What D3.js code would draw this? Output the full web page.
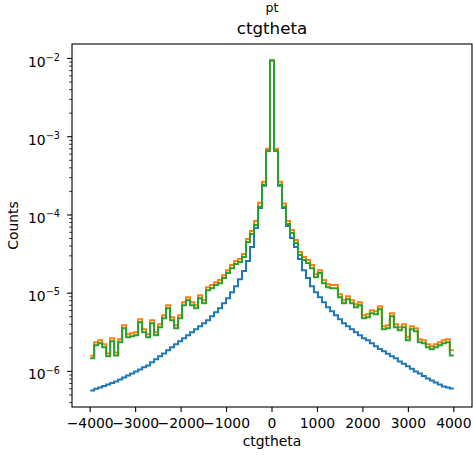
<!DOCTYPE html>
<html>
<head>
<meta charset="utf-8">
<script src="https://cdn.jsdelivr.net/npm/d3@7"></script>
<style>
  html, body { margin: 0; padding: 0; background: #fff; }
  svg { display: block; font-family: "DejaVu Sans", sans-serif; }
</style>
</head>
<body>
<div id="chart"></div>
<script>
// ---- data ----
const histRange = [-4000, 4000];
const binCount = 91;

// series 1 (blue)
const blueCounts = [
  5.7e-7, 6.0e-7, 6.24e-7, 6.5e-7, 6.81e-7, 7.1e-7, 7.44e-7, 7.9e-7, 8.38e-7, 8.89e-7,
  9.43e-7, 1.0e-6, 1.06e-6, 1.13e-6, 1.19e-6, 1.31e-6, 1.43e-6, 1.56e-6, 1.7e-6, 1.86e-6,
  2.03e-6, 2.22e-6, 2.43e-6, 2.65e-6, 2.9e-6, 3.16e-6, 3.46e-6, 3.78e-6, 4.13e-6, 4.51e-6,
  5.07e-6, 5.71e-6, 6.42e-6, 7.44e-6, 8.63e-6, 1.03e-5, 1.23e-5, 1.51e-5, 1.92e-5, 2.57e-5,
  3.89e-5, 6.81e-5, 1.23e-4, 2.36e-4, 6.62e-4, 9.43e-3, 6.62e-4, 2.36e-4, 1.23e-4, 7.23e-5,
  5.07e-5, 3.89e-5, 2.73e-5, 1.97e-5, 1.56e-5, 1.23e-5, 1.03e-5, 8.89e-6, 7.67e-6, 6.62e-6,
  5.88e-6, 5.22e-6, 4.64e-6, 4.13e-6, 3.78e-6, 3.46e-6, 3.16e-6, 2.9e-6, 2.65e-6, 2.5e-6,
  2.29e-6, 2.09e-6, 1.94e-6, 1.81e-6, 1.68e-6, 1.56e-6, 1.47e-6, 1.34e-6, 1.25e-6, 1.16e-6,
  1.08e-6, 1.0e-6, 9.43e-7, 8.76e-7, 8.13e-7, 7.67e-7, 7.23e-7, 6.81e-7, 6.42e-7, 6.24e-7,
  6.06e-7
];

// series 2 (orange)
const orangeCounts = [
  1.58e-6, 2.36e-6, 2.5e-6, 2.22e-6, 1.7e-6, 2.65e-6, 1.75e-6, 2.58e-6, 3.9e-6, 2.98e-6,
  3.07e-6, 3.16e-6, 4.64e-6, 3.46e-6, 2.98e-6, 4.51e-6, 3.16e-6, 4.0e-6, 5.22e-6, 7.02e-6,
  4.93e-6, 3.89e-6, 5.22e-6, 7.67e-6, 8.89e-6, 7.67e-6, 7.02e-6, 9.43e-6, 8.13e-6, 1.19e-5,
  1.27e-5, 1.38e-5, 1.47e-5, 1.7e-5, 1.97e-5, 2.29e-5, 2.58e-5, 2.73e-5, 3.16e-5, 4.93e-5,
  6.24e-5, 8.38e-5, 1.43e-4, 2.65e-4, 7.02e-4, 9.43e-3, 7.02e-4, 2.65e-4, 1.4e-4, 8.38e-5,
  6.42e-5, 4.78e-5, 3.36e-5, 2.9e-5, 2.65e-5, 2.29e-5, 1.75e-5, 1.97e-5, 1.47e-5, 1.3e-5,
  1.27e-5, 1.27e-5, 9.71e-6, 8.13e-6, 9.15e-6, 8.13e-6, 7.23e-6, 7.67e-6, 5.22e-6, 5.38e-6,
  6.05e-6, 5.88e-6, 6.81e-6, 3.78e-6, 3.89e-6, 5.54e-6, 4.0e-6, 3.67e-6, 4.0e-6, 2.73e-6,
  3.78e-6, 3.56e-6, 2.58e-6, 2.5e-6, 2.22e-6, 2.09e-6, 2.22e-6, 2.36e-6, 2.5e-6, 2.58e-6,
  1.86e-6
];

// series 3 (green)
const greenCounts = [
  1.47e-6, 2.16e-6, 2.29e-6, 2.03e-6, 1.56e-6, 2.43e-6, 1.6e-6, 2.36e-6, 3.56e-6, 2.73e-6,
  2.81e-6, 2.9e-6, 4.25e-6, 3.16e-6, 2.73e-6, 4.13e-6, 2.9e-6, 3.67e-6, 4.78e-6, 6.42e-6,
  4.51e-6, 3.56e-6, 4.78e-6, 7.02e-6, 8.13e-6, 7.02e-6, 6.42e-6, 8.63e-6, 7.44e-6, 1.09e-5,
  1.16e-5, 1.27e-5, 1.34e-5, 1.56e-5, 1.81e-5, 2.09e-5, 2.36e-5, 2.5e-5, 2.9e-5, 4.51e-5,
  5.71e-5, 7.44e-5, 1.27e-4, 2.43e-4, 6.62e-4, 9.43e-3, 6.62e-4, 2.43e-4, 1.27e-4, 7.67e-5,
  5.88e-5, 4.38e-5, 3.07e-5, 2.65e-5, 2.43e-5, 2.09e-5, 1.6e-5, 1.81e-5, 1.34e-5, 1.19e-5,
  1.16e-5, 1.16e-5, 8.89e-6, 7.44e-6, 8.38e-6, 7.44e-6, 6.62e-6, 7.02e-6, 4.78e-6, 4.93e-6,
  5.54e-6, 5.38e-6, 6.24e-6, 3.46e-6, 3.56e-6, 5.07e-6, 3.67e-6, 3.36e-6, 3.67e-6, 2.5e-6,
  3.46e-6, 3.26e-6, 2.36e-6, 2.29e-6, 2.03e-6, 1.92e-6, 2.03e-6, 2.16e-6, 2.29e-6, 2.36e-6,
  1.6e-6
];

const seriesColors = ['#1f77b4', '#ff7f0e', '#2ca02c'];
const xTickValues = [-4000, -3000, -2000, -1000, 0, 1000, 2000, 3000, 4000];
const yTickExponents = [-6, -5, -4, -3, -2];

const suptitleText = 'pt';
const titleText = 'ctgtheta';
const xLabelText = 'ctgtheta';
const yLabelText = 'Counts';

// ---- layout ----
const W = 473, H = 455;
const plot = { left: 72, right: 472, top: 44, bottom: 407 };

const svg = d3.select('#chart').append('svg')
  .attr('width', W)
  .attr('height', H);

// bin edges (equal width bins over histRange)
const binWidth = (histRange[1] - histRange[0]) / binCount;
const edges = d3.range(binCount + 1).map(i => histRange[0] + i * binWidth);

// x: data range plus 5% margins, as matplotlib does
const xSpan = histRange[1] - histRange[0];
const x = d3.scaleLinear()
  .domain([histRange[0] - 0.05 * xSpan, histRange[1] + 0.05 * xSpan])
  .range([plot.left, plot.right]);

// y: log scale, 5% margins in log space
const allCounts = blueCounts.concat(orangeCounts, greenCounts);
const lo = Math.log10(d3.min(allCounts));
const hi = Math.log10(d3.max(allCounts));
const pad = 0.05 * (hi - lo);
const y = d3.scaleLog()
  .domain([Math.pow(10, lo - pad), Math.pow(10, hi + pad)])
  .range([plot.bottom, plot.top]);

svg.append('clipPath').attr('id', 'plotClip')
  .append('rect')
  .attr('x', plot.left).attr('y', plot.top)
  .attr('width', plot.right - plot.left)
  .attr('height', plot.bottom - plot.top);

// step outline of a histogram
function stepPoints(counts) {
  const pts = [];
  counts.forEach((c, i) => {
    pts.push([edges[i], c]);
    pts.push([edges[i + 1], c]);
  });
  return pts;
}

const line = d3.line()
  .x(d => x(d[0]))
  .y(d => y(d[1]));

const g = svg.append('g').attr('clip-path', 'url(#plotClip)');
[blueCounts, orangeCounts, greenCounts].forEach((counts, i) => {
  g.append('path')
    .attr('d', line(stepPoints(counts)))
    .attr('fill', 'none')
    .attr('stroke', seriesColors[i])
    .attr('stroke-width', 2)
    .attr('stroke-linejoin', 'miter');
});

// ---- axes ----
const axisColor = '#000';

// x ticks
const xAxis = svg.append('g');
xTickValues.forEach(v => {
  xAxis.append('line')
    .attr('x1', x(v)).attr('x2', x(v))
    .attr('y1', plot.bottom).attr('y2', plot.bottom + 4.9)
    .attr('stroke', axisColor).attr('stroke-width', 1.1);
  xAxis.append('text')
    .attr('x', x(v))
    .attr('y', plot.bottom + 21)
    .attr('text-anchor', 'middle')
    .attr('font-size', '13.9px')
    .attr('fill', '#000')
    .text(v < 0 ? '\u2212' + Math.abs(v) : String(v));
});

// y minor ticks
const yAxis = svg.append('g');
const [dMin, dMax] = y.domain();
for (let e = Math.floor(Math.log10(dMin)); e <= Math.ceil(Math.log10(dMax)); e++) {
  for (let m = 2; m <= 9; m++) {
    const v = m * Math.pow(10, e);
    if (v < dMin || v > dMax) continue;
    yAxis.append('line')
      .attr('x1', plot.left - 2.8).attr('x2', plot.left)
      .attr('y1', y(v)).attr('y2', y(v))
      .attr('stroke', axisColor).attr('stroke-width', 0.8);
  }
}

// y major ticks with 10^n labels
yTickExponents.forEach(e => {
  const yy = y(Math.pow(10, e));
  yAxis.append('line')
    .attr('x1', plot.left - 4.9).attr('x2', plot.left)
    .attr('y1', yy).attr('y2', yy)
    .attr('stroke', axisColor).attr('stroke-width', 1.1);
  const t = yAxis.append('text')
    .attr('x', 60)
    .attr('y', yy + 8)
    .attr('text-anchor', 'end')
    .attr('font-size', '13.9px')
    .attr('fill', '#000');
  t.append('tspan').text('10');
  t.append('tspan')
    .attr('font-size', '9.7px')
    .attr('dy', -5.8)
    .text('\u2212' + Math.abs(e));
});

// frame
svg.append('rect')
  .attr('x', plot.left).attr('y', plot.top)
  .attr('width', plot.right - plot.left)
  .attr('height', plot.bottom - plot.top)
  .attr('fill', 'none')
  .attr('stroke', axisColor)
  .attr('stroke-width', 1.1);

// ---- titles & labels ----
const midX = (plot.left + plot.right) / 2;

svg.append('text')
  .attr('x', midX).attr('y', 12)
  .attr('text-anchor', 'middle')
  .attr('font-size', '12.5px')
  .text(suptitleText);

svg.append('text')
  .attr('x', midX).attr('y', 33.5)
  .attr('text-anchor', 'middle')
  .attr('font-size', '16.7px')
  .text(titleText);

svg.append('text')
  .attr('x', midX).attr('y', 446)
  .attr('text-anchor', 'middle')
  .attr('font-size', '13.9px')
  .text(xLabelText);

svg.append('text')
  .attr('transform', `translate(18, ${(plot.top + plot.bottom) / 2}) rotate(-90)`)
  .attr('text-anchor', 'middle')
  .attr('font-size', '13.9px')
  .text(yLabelText);
</script>
</body>
</html>
